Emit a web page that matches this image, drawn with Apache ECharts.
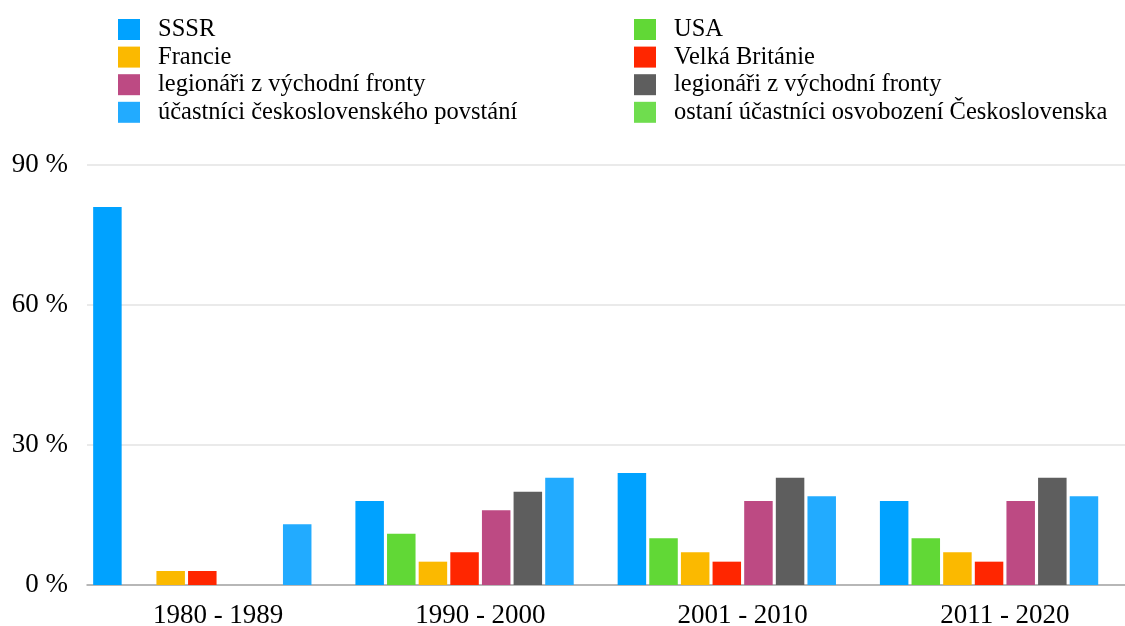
<!DOCTYPE html>
<html>
<head>
<meta charset="utf-8">
<script src="https://cdn.jsdelivr.net/npm/echarts@6/dist/echarts.min.js"></script>
<style>
  html, body { margin: 0; padding: 0; background: #fff; }
  #main { width: 1125px; height: 626px; }
</style>
</head>
<body>
<div id="main"></div>
<script>
var categories = ['1980 - 1989', '1990 - 2000', '2001 - 2010', '2011 - 2020'];
var yTicks = [0, 30, 60, 90];

var sssr = [81, 18, 24, 18];
var usa = [0, 11, 10, 10];
var francie = [3, 5, 7, 7];
var britanie = [3, 7, 5, 5];
var legionari = [0, 16, 18, 18];
var legionari2 = [0, 20, 23, 23];
var povstani = [13, 23, 19, 19];
var ostatni = [0, 0, 0, 0];

var serif = '"Liberation Serif", "Times New Roman", serif';
var myChart = echarts.init(document.getElementById('main'));

function bar(name, data, color) {
  return {
    name: name,
    type: 'bar',
    data: data,
    barWidth: 28.5,
    barGap: '11%',
    itemStyle: { color: color },
    emphasis: { disabled: true }
  };
}

var legendText = { fontFamily: serif, fontSize: 24.5, lineHeight: 24.5, color: '#000', padding: [0, 0, 0, 13] };

var option = {
  animation: false,
  legend: [{
    orient: 'vertical',
    left: 113, top: 12,
    itemWidth: 22, itemHeight: 21, itemGap: 2.6,
    icon: 'rect',
    textStyle: legendText,
    data: ['SSSR', 'Francie', 'legionáři z východní fronty', 'účastníci československého povstání']
  }, {
    orient: 'vertical',
    left: 629, top: 12,
    itemWidth: 22, itemHeight: 21, itemGap: 2.6,
    icon: 'rect',
    textStyle: legendText,
    data: ['USA', 'Velká Británie', 'legionáři z východní fronty ', 'ostaní účastníci osvobození Československa']
  }],
  grid: { left: 87, right: -11, top: 165, bottom: 41, containLabel: false, outerBoundsMode: 'none' },
  xAxis: {
    type: 'category',
    data: categories,
    axisTick: { show: false },
    axisLine: { lineStyle: { color: '#a6a6a6', width: 1.5 } },
    axisLabel: { fontFamily: serif, fontSize: 27, color: '#000', margin: 17 }
  },
  yAxis: {
    type: 'value',
    min: yTicks[0], max: yTicks[yTicks.length - 1], interval: 30,
    axisLine: { show: false },
    axisTick: { show: false },
    splitLine: { lineStyle: { color: '#e3e3e3', width: 1.5 } },
    axisLabel: { fontFamily: serif, fontSize: 27, color: '#000', margin: 19, formatter: '{value} %' }
  },
  series: [
    bar('SSSR', sssr, '#00A2FF'),
    bar('USA', usa, '#61D836'),
    bar('Francie', francie, '#FBB900'),
    bar('Velká Británie', britanie, '#FF2600'),
    bar('legionáři z východní fronty', legionari, '#BD4A83'),
    bar('legionáři z východní fronty ', legionari2, '#5E5E5E'),
    bar('účastníci československého povstání', povstani, '#22ABFF'),
    bar('ostaní účastníci osvobození Československa', ostatni, '#6FDD4E')
  ]
};

myChart.setOption(option);
</script>
</body>
</html>
